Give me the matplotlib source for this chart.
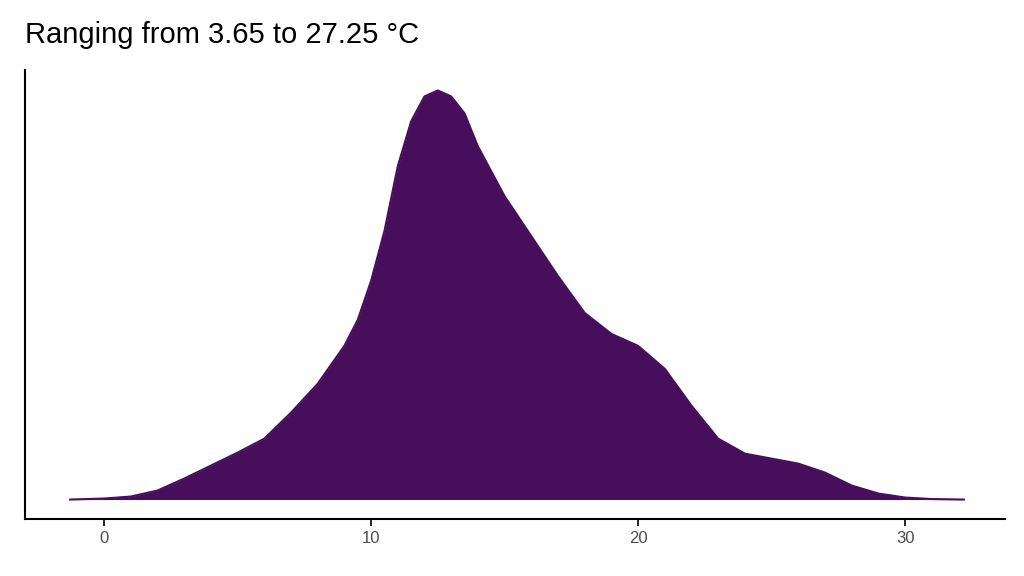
import matplotlib.pyplot as plt

# temperature (°C) and estimated density
temp = [-1.27, 0, 1, 2, 3, 4, 5, 6, 7, 8, 9, 9.5, 10, 10.5, 11, 11.5, 12, 12.5,
        13, 13.5, 14, 15, 16, 17, 18, 19, 20, 21, 22, 23, 24, 25, 26, 27, 28,
        29, 30, 31, 32.2]
dens = [0.0000, 0.0002, 0.0006, 0.0018, 0.0042, 0.0068, 0.0094, 0.0122,
        0.0174, 0.0232, 0.0308, 0.0360, 0.0438, 0.0538, 0.0668, 0.0758,
        0.0808, 0.0820, 0.0808, 0.0774, 0.0708, 0.0608, 0.0528, 0.0448,
        0.0374, 0.0332, 0.0308, 0.0262, 0.0188, 0.0122, 0.0092, 0.0082,
        0.0072, 0.0054, 0.0028, 0.0012, 0.0004, 0.0001, 0.0000]

title = "Ranging from 3.65 to 27.25 °C"
fill = "#470E5C"

fig = plt.figure(figsize=(10.24, 5.76), dpi=100)
ax = fig.add_axes([25 / 1024, 57 / 576, 980 / 1024, 449 / 576])

ax.fill_between(temp, dens, color=fill, linewidth=0)
ax.plot(temp, dens, color=fill, lw=1.5)

ax.set_xlim(-2.96, 33.74)
ax.set_ylim(-0.0039, 0.0861)
ax.set_xticks([0, 10, 20, 30])
ax.set_yticks([])
for s in ["top", "right"]:
    ax.spines[s].set_visible(False)
ax.spines["left"].set_linewidth(1.5)
ax.spines["bottom"].set_linewidth(1.5)
ax.tick_params(axis="x", labelsize=12, labelcolor="#4D4D4D", length=5, width=1.2)
for lab in ax.get_xticklabels():
    lab.set_family("Liberation Sans")

fig.text(25 / 1024, 1 - 35 / 576, title, fontsize=21, family="Liberation Sans",
         va="center", ha="left")

fig.savefig("out.png", dpi=100)
